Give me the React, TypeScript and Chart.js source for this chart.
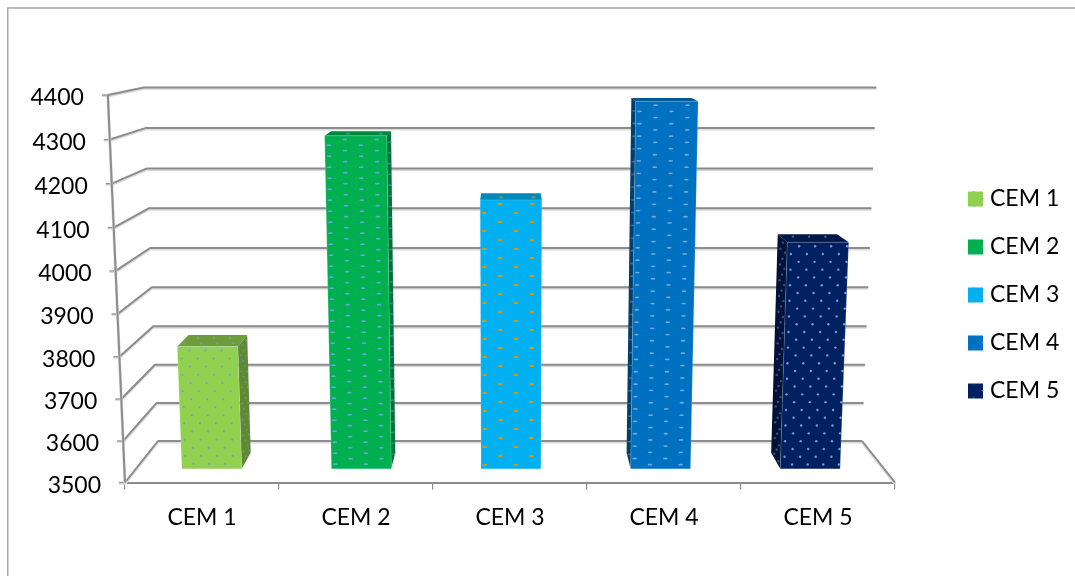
import React, { useEffect, useRef } from "react";
import { Chart, registerables } from "chart.js";

Chart.register(...registerables);

const categories = ["CEM 1", "CEM 2", "CEM 3", "CEM 4", "CEM 5"];
const strengths = [3800, 4300, 4150, 4380, 4050];
const axisMin = 3500;
const axisMax = 4400;
const axisStep = 100;

const frontColors = ["#92D050", "#00B050", "#00B0F0", "#0070C0", "#002060"];
const topColors = ["#6E9C3C", "#00853C", "#0088BA", "#005691", "#001848"];
const sideColors = ["#5F8A33", "#00733A", "#007FAE", "#003F6C", "#001238"];
const dotColors = ["#6FA3D8", "#62A9D6", "#C99B1E", "#6CA9DC", "#6D9FD8"];
const dotSizes = [[1.1, 1.1], [2.4, 0.9], [2.4, 1.2], [2.4, 0.9], [1.2, 1.2]];
const dotColPitch = [16, 32, 32, 32, 16];
const dotRowPitch = [8.1, 5.5, 9, 6.2, 7.8];

const FONT = "Lato, Carlito, sans-serif";
const LINE = "#8C8C8C";
const HALO = "#DCDCDC";

// Perspective of the plot box: d runs 0 (front edge) to 1 (back wall).
const FLOOR_RISE = 41.5;
const BACK_SHRINK = 0.0876;
const FLOOR_SHRINK = 0.0857;
const FLARE = 1.15e-4;
const BOW = 1e-4;
const BAR_NEAR = 1 / 3;
const BAR_FAR = 0.714;
const BAR_NUDGE = 1;

type Pt = { x: number; y: number };

function project(chart: any, px: number, py: number, d: number): Pt {
  const { left, right, top, bottom } = chart.chartArea;
  const cx = (left + right) / 2;
  const span = bottom - top;
  const h = bottom - py;
  const bowed = h - BOW * h * (span - h);
  const hs = bowed * (1 - BACK_SHRINK * d);
  const floorX = cx + (px - cx) * (1 - FLOOR_SHRINK * d);
  return { x: cx + (floorX - cx) * (1 + FLARE * hs), y: bottom - FLOOR_RISE * d - hs };
}

function line(ctx: CanvasRenderingContext2D, pts: Pt[], width = 2) {
  ctx.lineCap = "butt";
  ctx.lineJoin = "round";
  ctx.beginPath();
  pts.forEach((p, i) => (i ? ctx.lineTo(p.x, p.y + 1) : ctx.moveTo(p.x, p.y + 1)));
  ctx.strokeStyle = HALO;
  ctx.lineWidth = width + 1;
  ctx.stroke();
  ctx.beginPath();
  pts.forEach((p, i) => (i ? ctx.lineTo(p.x, p.y) : ctx.moveTo(p.x, p.y)));
  ctx.strokeStyle = LINE;
  ctx.lineWidth = width;
  ctx.stroke();
}

function poly(ctx: CanvasRenderingContext2D, pts: Pt[], fill: string) {
  ctx.beginPath();
  pts.forEach((p, i) => (i ? ctx.lineTo(p.x, p.y) : ctx.moveTo(p.x, p.y)));
  ctx.closePath();
  ctx.fillStyle = fill;
  ctx.fill();
}

// Staggered dot fill laid over a quad given as top-left, top-right, bottom-right, bottom-left.
function dots(
  ctx: CanvasRenderingContext2D,
  q: Pt[],
  colPitch: number,
  rowPitch: number,
  color: string,
  size: number[],
  alpha = 1,
) {
  const w = Math.hypot(q[1].x - q[0].x, q[1].y - q[0].y);
  const h = Math.hypot(q[3].x - q[0].x, q[3].y - q[0].y);
  ctx.save();
  ctx.fillStyle = color;
  ctx.globalAlpha = alpha;
  let row = 0;
  for (let v = 4; v < h - 2; v += rowPitch, row++) {
    const start = row % 2 ? 4 : 4 + colPitch / 2;
    for (let u = start; u < w - 1; u += colPitch) {
      const a = u / w;
      const b = v / h;
      const topX = q[0].x + (q[1].x - q[0].x) * a;
      const topY = q[0].y + (q[1].y - q[0].y) * a;
      const botX = q[3].x + (q[2].x - q[3].x) * a;
      const botY = q[3].y + (q[2].y - q[3].y) * a;
      ctx.beginPath();
      ctx.ellipse(topX + (botX - topX) * b, topY + (botY - topY) * b, size[0], size[1], 0, 0, Math.PI * 2);
      ctx.fill();
    }
  }
  ctx.restore();
}

const boxPlugin = {
  id: "box3d",
  afterLayout(chart: any) {
    const legend = chart.legend;
    legend.left = 947.5;
    legend.right = 1075;
    legend.top = 162.4;
    legend.bottom = 576;
  },
  beforeDatasetsDraw(chart: any) {
    const { ctx, chartArea: a, scales } = chart;
    const y = scales.y;
    ctx.save();

    // Outer frame: only the top and left edges fall inside the canvas.
    ctx.strokeStyle = "#A6A6A6";
    ctx.lineWidth = 1.5;
    ctx.beginPath();
    ctx.moveTo(7.75, 576);
    ctx.lineTo(7.75, 8);
    ctx.lineTo(1075, 8);
    ctx.stroke();

    y.ticks.forEach((t: any) => {
      const py = y.getPixelForValue(t.value);
      const front = project(chart, a.left, py, 0);
      const back = project(chart, a.left, py, 1);
      const backRight = project(chart, a.right, py, 1);
      line(ctx, [front, back, backRight]);
      line(ctx, [{ x: front.x - 6, y: front.y }, front], 1.2);
      ctx.fillStyle = "#000";
      ctx.font = `23px ${FONT}`;
      ctx.textAlign = "right";
      ctx.textBaseline = "middle";
      ctx.fillText(String(t.value), front.x - 24, front.y + 3);
    });

    // Right edge of the floor and the slanted value axis.
    line(ctx, [project(chart, a.right, a.bottom, 0), project(chart, a.right, a.bottom, 1)]);
    line(ctx, [project(chart, a.left, a.bottom, 0), project(chart, a.left, a.top, 0)]);
    ctx.restore();
  },
  beforeDatasetDraw(chart: any, args: any) {
    const { ctx, chartArea: a } = chart;
    const cx = (a.left + a.right) / 2;
    args.meta.data.forEach((bar: any, i: number) => {
      const { x, y, width } = bar.getProps(["x", "y", "width"], true);
      const l = x - width / 2 + BAR_NUDGE;
      const r = x + width / 2 + BAR_NUDGE;
      const ftl = project(chart, l, y, BAR_NEAR);
      const ftr = project(chart, r, y, BAR_NEAR);
      const fbl = project(chart, l, a.bottom, BAR_NEAR);
      const fbr = project(chart, r, a.bottom, BAR_NEAR);
      const btl = project(chart, l, y, BAR_FAR);
      const btr = project(chart, r, y, BAR_FAR);
      const bbl = project(chart, l, a.bottom, BAR_FAR);
      const bbr = project(chart, r, a.bottom, BAR_FAR);
      const dot = dotColors[i];
      const sz = dotSizes[i];

      poly(ctx, [ftl, ftr, btr, btl], topColors[i]);
      dots(ctx, [btl, btr, ftr, ftl], dotColPitch[i], dotRowPitch[i], dot, sz, 0.55);
      if (btr.x > ftr.x && r < cx) {
        poly(ctx, [ftr, btr, bbr, fbr], sideColors[i]);
        dots(ctx, [ftr, btr, bbr, fbr], 6, dotRowPitch[i], dot, sz, 0.45);
      }
      if (btl.x < ftl.x && l > cx) {
        poly(ctx, [btl, ftl, fbl, bbl], sideColors[i]);
        dots(ctx, [btl, ftl, fbl, bbl], 6, dotRowPitch[i], dot, sz, 0.45);
      }
      poly(ctx, [ftl, ftr, fbr, fbl], frontColors[i]);
      dots(ctx, [ftl, ftr, fbr, fbl], dotColPitch[i], dotRowPitch[i], dot, sz);
      ctx.save();
      ctx.strokeStyle = "rgba(255,255,255,0.18)";
      ctx.lineWidth = 1;
      ctx.beginPath();
      ctx.moveTo(fbl.x, fbl.y);
      ctx.lineTo(ftl.x, ftl.y);
      ctx.lineTo(ftr.x, ftr.y);
      ctx.lineTo(fbr.x, fbr.y);
      ctx.stroke();
      ctx.restore();
    });
    return false;
  },
  afterDraw(chart: any) {
    // Flecks of the dot fill on each legend swatch.
    const { ctx } = chart;
    chart.legend.legendHitBoxes.forEach((box: any, i: number) => {
      const top = box.top + (box.height - 6) / 2 - 4.5;
      const left = box.left - 4.5;
      ctx.fillStyle = dotColors[i];
      [[5.7, 0.3], [14.6, 7.3], [5.7, 14.7]].forEach(([dx, dy]) => {
        ctx.fillRect(left + dx - 1, top + dy - 0.4, 2, 0.8);
      });
    });
  },
};

export default function App() {
  const ref = useRef<HTMLCanvasElement>(null);
  useEffect(() => {
    const chart = new Chart(ref.current!, {
      type: "bar",
      data: {
        labels: categories,
        datasets: [
          {
            data: strengths,
            backgroundColor: frontColors,
            barPercentage: 0.4,
            categoryPercentage: 1,
          },
        ],
      },
      options: {
        responsive: false,
        animation: false,
        layout: { padding: { left: 125, right: 180, top: 95, bottom: 0 } },
        scales: {
          x: {
            afterFit(scale: any) {
              scale.height = 93.5;
            },
            border: { display: true, color: LINE, width: 2 },
            grid: { drawOnChartArea: false, drawTicks: true, tickLength: 7, color: LINE, lineWidth: 1.2 },
            ticks: { color: "#000", font: { family: FONT, size: 23 }, padding: 14, maxRotation: 0 },
          },
          y: {
            min: axisMin,
            max: axisMax,
            afterFit(scale: any) {
              scale.width = 0;
            },
            ticks: { display: false, stepSize: axisStep },
            grid: { display: false },
            border: { display: false },
          },
        },
        plugins: {
          tooltip: { enabled: false },
          legend: {
            position: "chartArea",
            align: "start",
            labels: {
              boxWidth: 6,
              boxHeight: 6,
              padding: 25,
              color: "#000",
              font: { family: FONT, size: 23 },
              generateLabels: () =>
                categories.map((text, i) => ({
                  text,
                  fillStyle: frontColors[i],
                  strokeStyle: frontColors[i],
                  lineWidth: 9,
                  index: i,
                })),
            },
          },
        },
      } as any,
      plugins: [boxPlugin],
    });
    return () => chart.destroy();
  }, []);

  return (
    <div style={{ position: "fixed", left: 0, top: 0, width: 1075, height: 576, background: "#fff" }}>
      <canvas ref={ref} width={1075} height={576} style={{ display: "block" }} />
    </div>
  );
}
